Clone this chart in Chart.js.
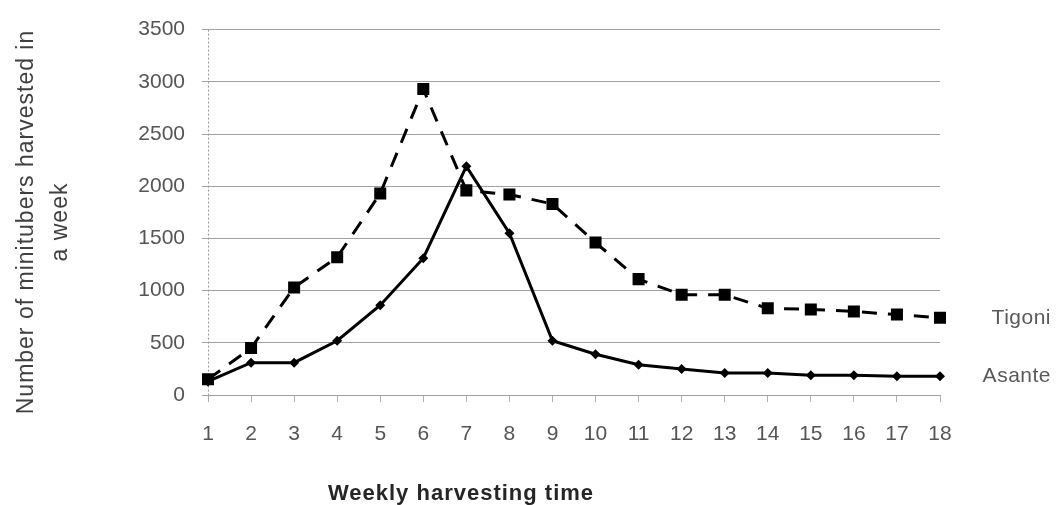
<!DOCTYPE html>
<html>
<head>
<meta charset="utf-8">
<title>Weekly minituber harvest</title>
<script src="https://cdn.jsdelivr.net/npm/chart.js@4.4.1/dist/chart.umd.min.js"></script>
<style>
  html, body { margin: 0; padding: 0; background: #fff; }
  #wrap { position: relative; width: 1056px; height: 505px; }
</style>
</head>
<body>
<div id="wrap"><canvas id="chart"></canvas></div>
<script>
// Chart data
const weeks = ['1', '2', '3', '4', '5', '6', '7', '8', '9', '10', '11', '12', '13', '14', '15', '16', '17', '18'];
const tigoni = [150, 450, 1030, 1320, 1930, 2930, 1960, 1920, 1830, 1460, 1110, 960, 960, 830, 820, 800, 770, 740];
const asante = [130, 310, 310, 520, 860, 1310, 2190, 1550, 520, 390, 290, 250, 210, 210, 190, 190, 180, 180];
const yTicks = [0, 500, 1000, 1500, 2000, 2500, 3000, 3500];

const yTitle = ['Number of minitubers harvested in', 'a week'];
const xTitle = 'Weekly harvesting time';

const FONT = "'Liberation Sans', Arial, sans-serif";

// Dotted y axis line, axis titles and end-of-line series names
const textPlugin = {
    id: 'chartText',
    beforeDatasetsDraw(chart) {
        const ctx = chart.ctx;
        const area = chart.chartArea;
        ctx.save();
        ctx.strokeStyle = '#9a9a9a';
        ctx.lineWidth = 1;
        ctx.setLineDash([2, 2]);
        ctx.beginPath();
        ctx.moveTo(area.left + 0.5, area.top);
        ctx.lineTo(area.left + 0.5, area.bottom);
        ctx.stroke();
        ctx.restore();
    },
    afterDraw(chart) {
        const ctx = chart.ctx;
        ctx.save();

        // y axis title, two rotated lines
        ctx.fillStyle = '#404040';
        ctx.font = `23px ${FONT}`;
        ctx.letterSpacing = '1px';
        ctx.textAlign = 'center';
        ctx.textBaseline = 'alphabetic';
        [33, 67].forEach((bx, i) => {
            ctx.save();
            ctx.translate(bx, 222);
            ctx.rotate(-Math.PI / 2);
            ctx.fillText(yTitle[i], 0, 0);
            ctx.restore();
        });

        // x axis title
        ctx.fillStyle = '#262626';
        ctx.font = `bold 22px ${FONT}`;
        ctx.letterSpacing = '1px';
        ctx.fillText(xTitle, 461, 500);

        // series names next to the last point
        ctx.fillStyle = '#595959';
        ctx.font = `21px ${FONT}`;
        ctx.letterSpacing = '0.5px';
        ctx.textAlign = 'right';
        ctx.textBaseline = 'middle';
        chart.data.datasets.forEach((ds, i) => {
            const pts = chart.getDatasetMeta(i).data;
            const last = pts[pts.length - 1];
            ctx.fillText(ds.label, 1051, last.y);
        });
        ctx.restore();
    }
};

new Chart(document.getElementById('chart'), {
    type: 'line',
    data: {
        labels: weeks,
        datasets: [
            {
                label: 'Tigoni',
                data: tigoni,
                borderColor: '#000',
                backgroundColor: '#000',
                borderWidth: 3,
                borderDash: [15, 11],
                pointStyle: 'rect',
                pointRadius: 8.5,
                pointBorderWidth: 0,
                tension: 0
            },
            {
                label: 'Asante',
                data: asante,
                borderColor: '#000',
                backgroundColor: '#000',
                borderWidth: 3,
                pointStyle: 'rectRot',
                pointRadius: 5,
                pointBorderWidth: 0,
                tension: 0
            }
        ]
    },
    options: {
        responsive: true,
        maintainAspectRatio: false,
        animation: false,
        devicePixelRatio: 1,
        layout: { padding: { left: 0, right: 116, top: 17, bottom: 0 } },
        plugins: {
            legend: { display: false },
            tooltip: { enabled: false }
        },
        scales: {
            x: {
                offset: false,
                grid: { drawOnChartArea: false, drawTicks: true, tickLength: 7, color: '#b0b0b0' },
                border: { display: true, color: '#a0a0a0' },
                ticks: { color: '#555', font: { family: FONT, size: 21 }, padding: 20, maxRotation: 0, autoSkip: false },
                afterFit(scale) { scale.height = 110; }
            },
            y: {
                min: 0,
                max: 3500,
                afterBuildTicks(scale) { scale.ticks = yTicks.map(v => ({ value: v })); },
                grid: { color: '#a0a0a0', lineWidth: 1, tickLength: 6 },
                border: { display: false },
                ticks: {
                    color: '#555',
                    font: { family: FONT, size: 21 },
                    padding: 17,
                    callback: v => String(v)
                },
                afterFit(scale) { scale.width = 208; }
            }
        }
    },
    plugins: [textPlugin]
});
</script>
</body>
</html>
